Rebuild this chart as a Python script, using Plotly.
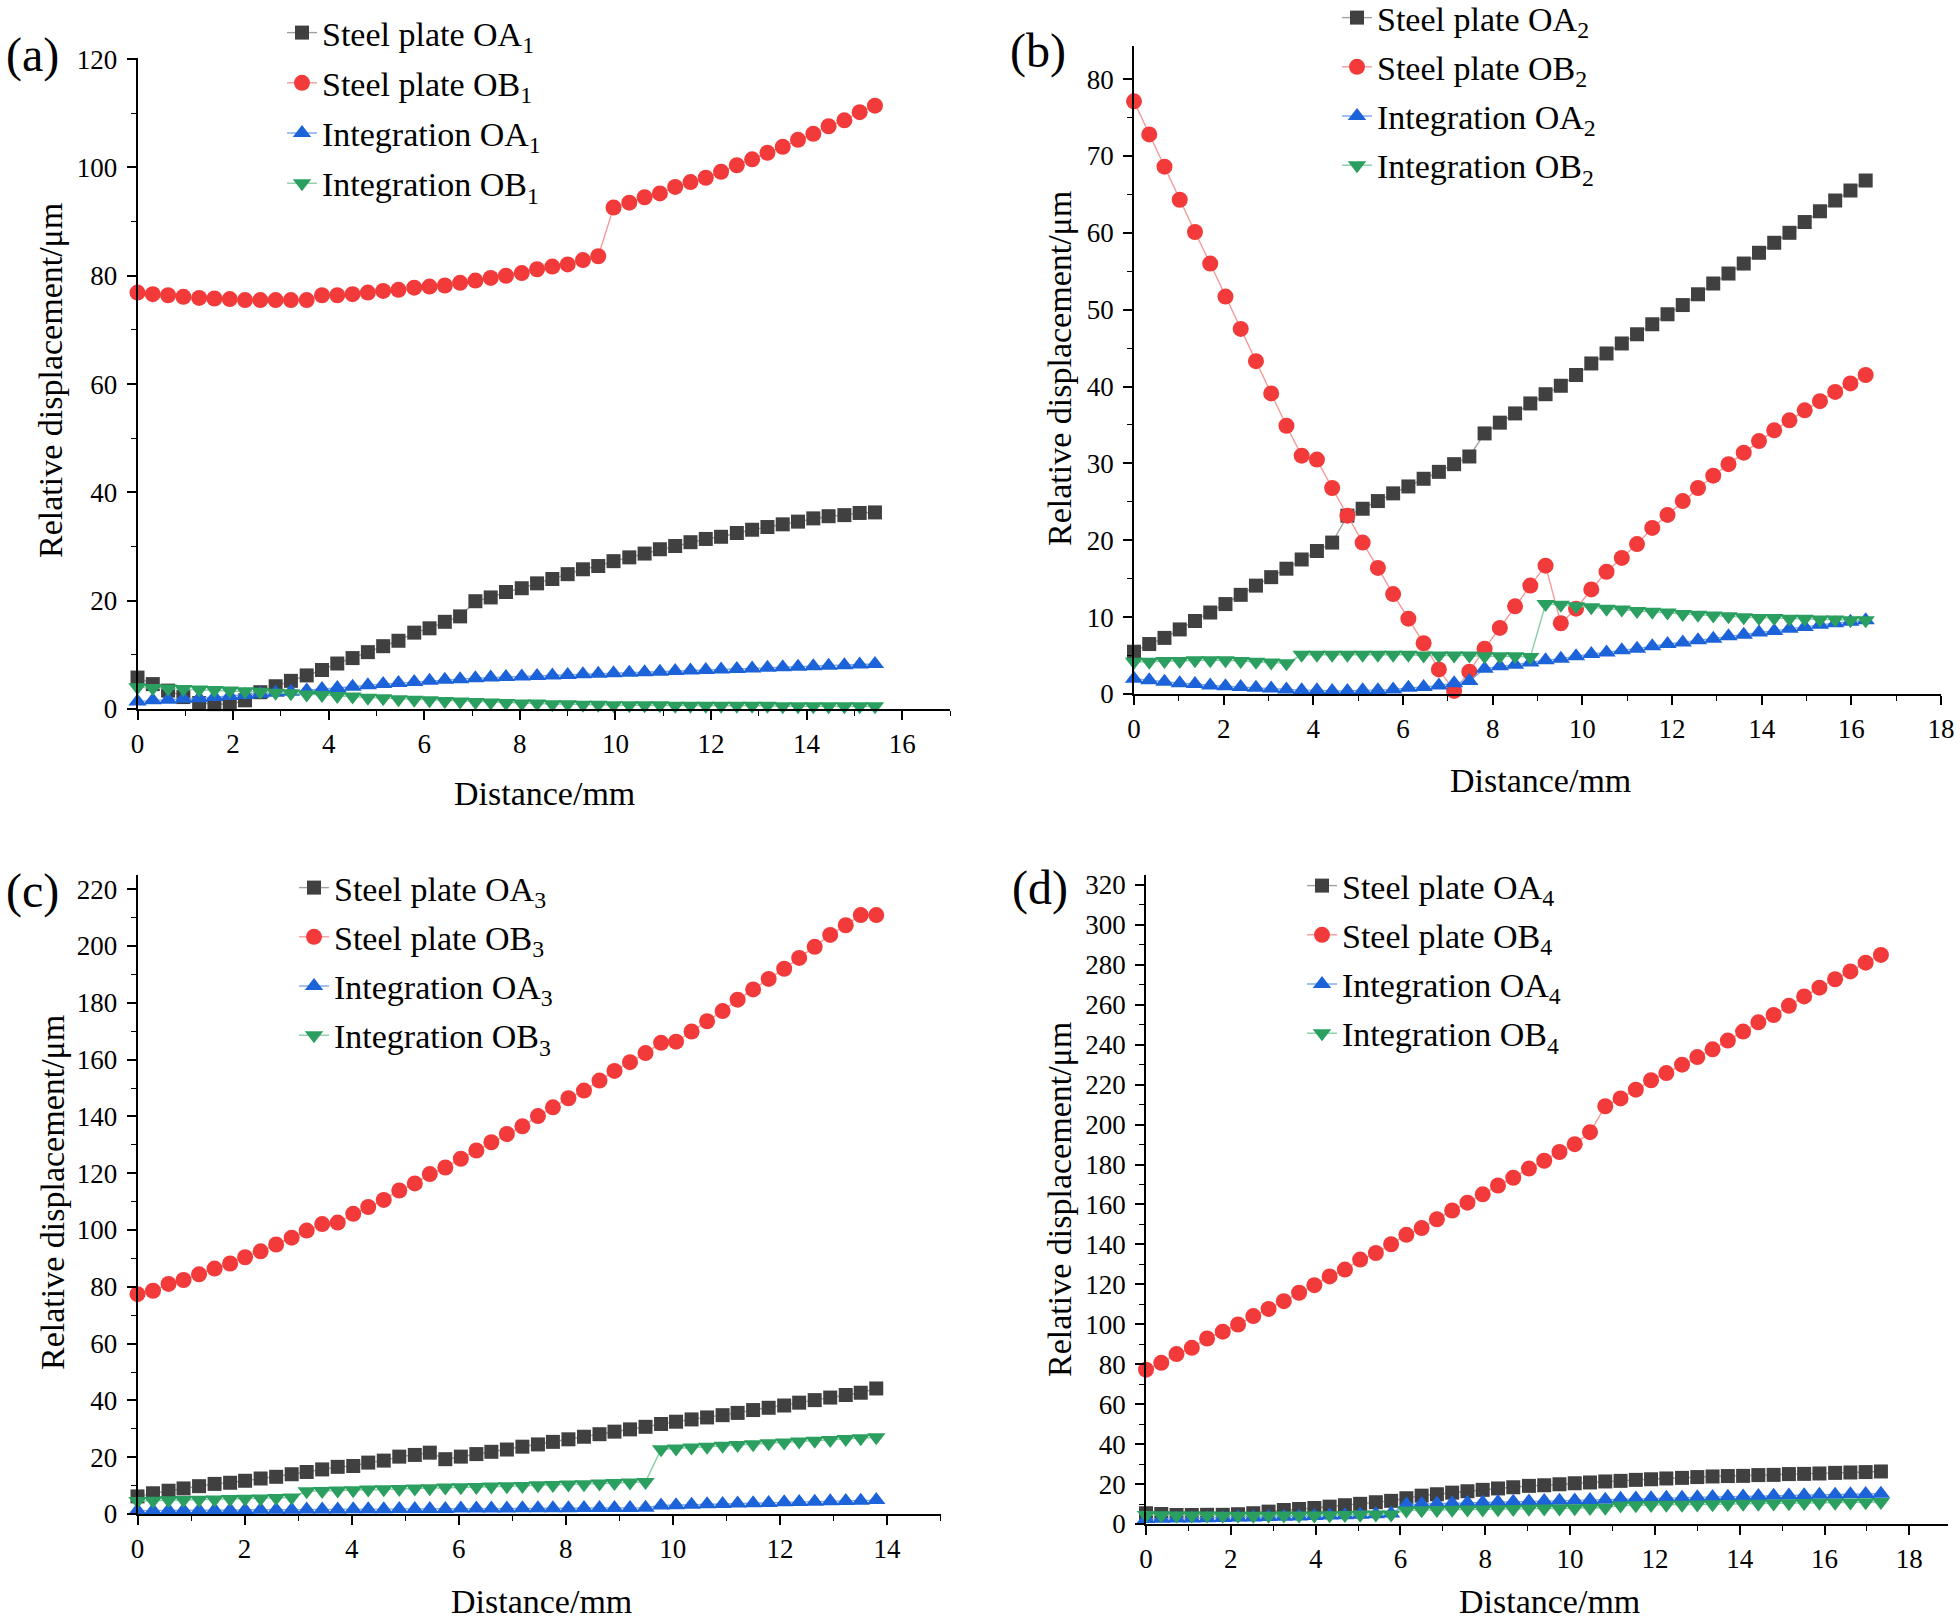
import plotly.graph_objects as go

# ---------------- data ----------------
# (a)
dist_a = [0.00, 0.32, 0.64, 0.96, 1.29, 1.61, 1.93, 2.25, 2.57, 2.89, 3.21, 3.54, 3.86, 4.18, 4.50, 4.82,
          5.14, 5.46, 5.79, 6.11, 6.43, 6.75, 7.07, 7.39, 7.71, 8.04, 8.36, 8.68, 9.00, 9.32, 9.64, 9.96,
          10.29, 10.61, 10.93, 11.25, 11.57, 11.89, 12.21, 12.54, 12.86, 13.18, 13.50, 13.82, 14.14, 14.46,
          14.79, 15.11, 15.43]
steel_OA1 = [5.8, 4.6, 3.4, 2.2, 1.1, 0.9, 0.9, 1.6, 3.1, 4.2, 5.2, 6.2, 7.2, 8.4, 9.4, 10.5, 11.6, 12.6,
             14.1, 14.9, 16.1, 17.1, 19.9, 20.6, 21.6, 22.3, 23.2, 24.0, 24.9, 25.8, 26.4, 27.3, 28.0, 28.7,
             29.5, 30.1, 30.8, 31.4, 31.8, 32.5, 33.1, 33.6, 34.1, 34.6, 35.2, 35.6, 35.8, 36.2, 36.3]
steel_OB1 = [76.9, 76.6, 76.4, 76.1, 75.9, 75.8, 75.7, 75.5, 75.5, 75.5, 75.5, 75.5, 76.4, 76.4, 76.6, 76.9,
             77.2, 77.4, 77.8, 78.0, 78.2, 78.7, 79.1, 79.6, 80.0, 80.5, 81.2, 81.7, 82.1, 82.9, 83.6, 92.6,
             93.5, 94.5, 95.2, 96.4, 97.3, 98.1, 99.2, 100.4, 101.5, 102.7, 103.8, 105.1, 106.2, 107.6,
             108.7, 110.2, 111.4]
integ_OA1 = [1.4, 1.6, 1.7, 1.9, 2.0, 2.2, 2.4, 2.6, 2.8, 3.0, 3.2, 3.4, 3.7, 3.9, 4.1, 4.4, 4.6, 4.8, 5.0,
             5.2, 5.4, 5.5, 5.7, 5.8, 5.9, 6.0, 6.1, 6.2, 6.3, 6.4, 6.5, 6.6, 6.7, 6.8, 6.9, 7.0, 7.1, 7.2,
             7.3, 7.4, 7.5, 7.6, 7.7, 7.8, 7.9, 8.0, 8.1, 8.2, 8.3]
integ_OB1 = [4.0, 3.9, 3.8, 3.7, 3.6, 3.5, 3.4, 3.3, 3.2, 3.0, 2.9, 2.7, 2.6, 2.4, 2.3, 2.1, 2.0, 1.8, 1.7,
             1.6, 1.5, 1.4, 1.3, 1.2, 1.1, 1.0, 1.0, 0.9, 0.9, 0.8, 0.8, 0.7, 0.7, 0.7, 0.7, 0.6, 0.6, 0.6,
             0.6, 0.6, 0.6, 0.6, 0.5, 0.5, 0.5, 0.5, 0.5, 0.5, 0.5]

# (b)
dist_b = [0.00, 0.34, 0.68, 1.02, 1.36, 1.70, 2.04, 2.38, 2.72, 3.06, 3.40, 3.74, 4.08, 4.42, 4.76, 5.10,
          5.44, 5.78, 6.12, 6.46, 6.80, 7.14, 7.48, 7.82, 8.16, 8.50, 8.84, 9.18, 9.52, 9.86, 10.20, 10.54,
          10.88, 11.22, 11.56, 11.90, 12.24, 12.58, 12.92, 13.26, 13.60, 13.94, 14.28, 14.62, 14.96, 15.30,
          15.64, 15.98, 16.32]
steel_OA2 = [5.5, 6.5, 7.3, 8.4, 9.5, 10.6, 11.7, 12.9, 14.1, 15.2, 16.3, 17.5, 18.6, 19.7, 23.2, 24.1,
             25.1, 26.1, 27.0, 28.0, 28.9, 29.9, 30.9, 33.9, 35.3, 36.5, 37.8, 39.0, 40.1, 41.5, 43.0, 44.3,
             45.6, 46.8, 48.1, 49.4, 50.6, 52.0, 53.4, 54.7, 56.0, 57.4, 58.7, 60.0, 61.4, 62.8, 64.2, 65.5,
             66.8]
steel_OB2 = [77.1, 72.8, 68.6, 64.3, 60.1, 56.0, 51.7, 47.5, 43.3, 39.1, 34.9, 31.0, 30.5, 26.8, 23.2, 19.7,
             16.4, 13.0, 9.8, 6.6, 3.2, 0.4, 2.9, 5.9, 8.6, 11.4, 14.1, 16.7, 9.2, 11.1, 13.6, 15.9, 17.7,
             19.5, 21.6, 23.3, 25.1, 26.8, 28.4, 29.9, 31.4, 32.9, 34.3, 35.6, 36.9, 38.1, 39.3, 40.4, 41.5]
integ_OA2 = [2.0, 1.8, 1.6, 1.4, 1.3, 1.1, 1.0, 0.9, 0.8, 0.7, 0.6, 0.5, 0.5, 0.4, 0.4, 0.5, 0.5, 0.6, 0.8,
             0.9, 1.1, 1.4, 1.7, 3.3, 3.6, 3.8, 4.1, 4.4, 4.6, 4.9, 5.2, 5.4, 5.7, 5.9, 6.2, 6.5, 6.7, 7.0,
             7.2, 7.5, 7.7, 8.0, 8.2, 8.5, 8.7, 9.0, 9.2, 9.4, 9.6]
integ_OB2 = [4.2, 4.2, 4.3, 4.3, 4.4, 4.4, 4.4, 4.3, 4.2, 4.1, 4.0, 5.1, 5.1, 5.1, 5.1, 5.1, 5.1, 5.1, 5.1,
             5.0, 5.0, 5.0, 5.0, 4.9, 4.9, 4.9, 4.8, 11.7, 11.6, 11.4, 11.3, 11.1, 11.0, 10.8, 10.7, 10.6,
             10.4, 10.3, 10.2, 10.1, 10.0, 9.9, 9.9, 9.8, 9.8, 9.7, 9.7, 9.6, 9.6]

# (c)
dist_c = [0.00, 0.29, 0.58, 0.86, 1.15, 1.44, 1.73, 2.01, 2.30, 2.59, 2.88, 3.16, 3.45, 3.74, 4.03, 4.31,
          4.60, 4.89, 5.18, 5.46, 5.75, 6.04, 6.33, 6.61, 6.90, 7.19, 7.48, 7.76, 8.05, 8.34, 8.63, 8.91,
          9.20, 9.49, 9.78, 10.06, 10.35, 10.64, 10.93, 11.21, 11.50, 11.79, 12.08, 12.36, 12.65, 12.94,
          13.23, 13.51, 13.80]
steel_OA3 = [6.2, 7.3, 8.2, 9.0, 9.8, 10.6, 11.0, 11.7, 12.5, 13.1, 14.0, 14.8, 15.7, 16.6, 16.9, 18.1,
             18.8, 20.2, 20.8, 21.6, 19.3, 20.2, 21.1, 21.9, 22.7, 23.7, 24.5, 25.4, 26.3, 27.2, 28.1, 29.0,
             29.8, 30.7, 31.7, 32.5, 33.3, 34.0, 34.8, 35.6, 36.6, 37.4, 38.2, 39.2, 40.1, 41.0, 41.9, 42.7,
             44.2]
steel_OB3 = [77.4, 78.6, 81.0, 82.4, 84.4, 86.4, 88.2, 90.4, 92.5, 94.9, 97.3, 99.8, 102.1, 102.6, 105.7,
             108.1, 110.6, 113.9, 116.4, 119.7, 122.0, 125.1, 128.0, 130.9, 133.8, 136.5, 140.1, 143.2,
             146.4, 149.1, 152.6, 156.0, 159.1, 162.3, 165.9, 166.3, 169.9, 173.5, 177.1, 181.1, 184.7,
             188.4, 192.0, 195.8, 199.7, 203.9, 207.3, 210.9, 210.9]
integ_OA3 = [1.2, 1.2, 1.3, 1.3, 1.3, 1.4, 1.4, 1.4, 1.5, 1.5, 1.5, 1.6, 1.6, 1.6, 1.7, 1.7, 1.7, 1.8, 1.8,
             1.8, 1.8, 1.9, 1.9, 1.9, 1.9, 2.0, 2.0, 2.0, 2.0, 2.1, 2.1, 2.1, 2.1, 2.2, 3.0, 3.1, 3.3, 3.4,
             3.5, 3.7, 3.8, 3.9, 4.1, 4.2, 4.3, 4.5, 4.6, 4.7, 4.9]
integ_OB3 = [4.6, 4.7, 4.8, 4.9, 5.0, 5.1, 5.3, 5.4, 5.5, 5.6, 5.8, 8.0, 8.1, 8.3, 8.4, 8.6, 8.7, 8.8, 9.0,
             9.1, 9.3, 9.4, 9.5, 9.7, 9.8, 9.9, 10.1, 10.2, 10.4, 10.5, 10.7, 10.9, 11.1, 11.3, 22.8, 23.1,
             23.4, 23.7, 24.0, 24.3, 24.6, 24.9, 25.2, 25.5, 25.8, 26.1, 26.4, 26.7, 27.0]

# (d)
dist_d = [0.00, 0.36, 0.72, 1.08, 1.44, 1.81, 2.17, 2.53, 2.89, 3.25, 3.61, 3.97, 4.33, 4.69, 5.05, 5.42,
          5.78, 6.14, 6.50, 6.86, 7.22, 7.58, 7.94, 8.30, 8.66, 9.03, 9.39, 9.75, 10.11, 10.47, 10.83,
          11.19, 11.55, 11.91, 12.27, 12.64, 13.00, 13.36, 13.72, 14.08, 14.44, 14.80, 15.16, 15.52, 15.88,
          16.25, 16.61, 16.97, 17.33]
steel_OA4 = [5.4, 5.0, 4.5, 4.5, 4.6, 4.6, 4.9, 5.4, 6.2, 7.0, 7.5, 8.0, 8.7, 9.4, 10.1, 10.9, 11.6, 12.9,
             14.2, 14.9, 15.7, 16.4, 17.1, 17.8, 18.4, 19.1, 19.4, 19.9, 20.4, 20.8, 21.3, 21.6, 22.1, 22.4,
             22.8, 23.1, 23.5, 23.8, 24.0, 24.1, 24.5, 24.6, 25.0, 25.1, 25.3, 25.6, 25.8, 26.0, 26.3]
steel_OB4 = [77.3, 80.7, 85.1, 88.2, 92.9, 96.3, 99.9, 104.1, 107.7, 111.6, 115.8, 119.6, 124.0, 127.4,
             132.4, 135.7, 140.1, 144.8, 148.2, 152.6, 157.0, 160.9, 165.1, 169.5, 173.4, 178.0, 181.9,
             186.3, 190.2, 196.2, 209.2, 213.1, 217.5, 222.2, 225.8, 230.0, 233.8, 237.7, 242.1, 246.6,
             251.2, 254.9, 259.5, 264.2, 268.6, 272.8, 276.7, 281.1, 285.0]
integ_OA4 = [2.5, 2.6, 2.7, 2.8, 2.9, 3.0, 3.2, 3.3, 3.5, 3.6, 3.8, 4.0, 4.2, 4.4, 4.6, 4.9, 5.2, 9.8, 10.0,
             10.2, 10.4, 10.6, 10.8, 11.0, 11.2, 11.3, 11.5, 11.7, 11.8, 12.0, 12.1, 12.6, 12.8, 12.9, 13.1,
             13.2, 13.4, 13.5, 13.7, 13.8, 14.0, 14.1, 14.3, 14.4, 14.6, 14.7, 14.9, 15.0, 15.2]
integ_OB4 = [4.5, 4.4, 4.3, 4.2, 4.2, 4.1, 4.1, 4.1, 4.1, 4.2, 4.2, 4.3, 4.4, 4.5, 4.6, 4.7, 4.8, 6.8, 6.9,
             7.0, 7.1, 7.2, 7.3, 7.4, 7.5, 7.6, 7.7, 7.8, 7.9, 8.0, 8.1, 9.3, 9.4, 9.5, 9.6, 9.7, 9.8, 9.9,
             10.0, 10.1, 10.2, 10.3, 10.4, 10.5, 10.6, 10.7, 10.8, 10.9, 11.0]

series_names = ["Steel plate OA", "Steel plate OB", "Integration OA", "Integration OB"]
panel_labels = ["(a)", "(b)", "(c)", "(d)"]
x_title = "Distance/mm"
y_title = "Relative displacement/μm"

# ---------------- styles / layout ----------------
W, H = 1960, 1622
FONT = "Liberation Serif, Times New Roman, serif"


def px(x):
    return x / W


def py(y):
    return 1 - y / H


styles = [
    dict(symbol="square", size=14, mcolor="#404040", lcolor="#a0a0a0"),
    dict(symbol="circle", size=16, mcolor="#f23a3a", lcolor="#f59a9a"),
    dict(symbol="triangle-up", size=16, mcolor="#1c63d9", lcolor="#7ba5ee"),
    dict(symbol="triangle-down", size=16, mcolor="#2b9f60", lcolor="#86cfa4"),
]

panels = [
    dict(x=dist_a, ys=[steel_OA1, steel_OB1, integ_OA1, integ_OB1], sub="1",
         xpix=(137.5, 950), ypix=(709, 57.5), xr=[0, 17], yr=[0, 120.3], ydt=20, ymin=10,
         leg=(282, 4), gap=3, ytit=(50, 381), xtit=(544, 793), lab=(32, 55)),
    dict(x=dist_b, ys=[steel_OA2, steel_OB2, integ_OA2, integ_OB2], sub="2",
         xpix=(1134, 1941), ypix=(694, 46), xr=[0, 18], yr=[0, 84.3], ydt=10, ymin=5,
         leg=(1337, -11), gap=2, ytit=(1060, 369), xtit=(1540, 780), lab=(1038, 51)),
    dict(x=dist_c, ys=[steel_OA3, steel_OB3, integ_OA3, integ_OB3], sub="3",
         xpix=(137.5, 940.5), ypix=(1514, 875), xr=[0, 15], yr=[0, 225], ydt=20, ymin=10,
         leg=(294, 859), gap=2, ytit=(52, 1193), xtit=(541, 1601), lab=(32, 891)),
    dict(x=dist_d, ys=[steel_OA4, steel_OB4, integ_OA4, integ_OB4], sub="4",
         xpix=(1146, 1947.5), ypix=(1524, 875), xr=[0, 18.9], yr=[0, 325], ydt=20, ymin=10,
         leg=(1302, 857), gap=2, ytit=(1059, 1200), xtit=(1549, 1601), lab=(1040, 888)),
]

fig = go.Figure()
layout = dict(
    width=W, height=H, margin=dict(l=0, r=0, t=0, b=0, autoexpand=False),
    paper_bgcolor="white", plot_bgcolor="white",
    font=dict(family=FONT, color="black"),
    showlegend=True, annotations=[],
)

for k, p in enumerate(panels):
    n = "" if k == 0 else str(k + 1)
    legname = "legend" if k == 0 else f"legend{k + 1}"
    for j, (yv, st) in enumerate(zip(p["ys"], styles)):
        fig.add_trace(go.Scatter(
            x=p["x"], y=yv, mode="lines+markers",
            name=f"{series_names[j]}<sub>{p['sub']}</sub>",
            xaxis=f"x{n}", yaxis=f"y{n}", legend=legname,
            legendgroup=f"g{k}_{j}",
            cliponaxis=False,
            line=dict(color=st["lcolor"], width=1.4),
            marker=dict(symbol=st["symbol"], size=st["size"], color=st["mcolor"], line=dict(width=0)),
        ))
    axis_common = dict(
        showline=True, linecolor="black", linewidth=1.8, mirror=False,
        ticks="outside", ticklen=9, tickwidth=1.6, tickcolor="black",
        showgrid=False, zeroline=False,
        tickfont=dict(family=FONT, size=27, color="black"),
    )
    layout[f"xaxis{n}"] = dict(
        axis_common, domain=[px(p["xpix"][0]), px(p["xpix"][1])], range=p["xr"],
        anchor=f"y{n}", dtick=2, tick0=0, ticklabelstandoff=1,
        minor=dict(dtick=1, ticks="outside", ticklen=5, tickwidth=1.4, tickcolor="black"),
    )
    layout[f"yaxis{n}"] = dict(
        axis_common, domain=[py(p["ypix"][0]), py(p["ypix"][1])], range=p["yr"],
        anchor=f"x{n}", dtick=p["ydt"], tick0=0, ticklabelstandoff=4,
        minor=dict(dtick=p["ymin"], ticks="outside", ticklen=5, tickwidth=1.4, tickcolor="black"),
    )
    layout[legname] = dict(
        x=px(p["leg"][0]), y=py(p["leg"][1]), xanchor="left", yanchor="top",
        bgcolor="rgba(0,0,0,0)", borderwidth=0, tracegroupgap=p["gap"],
        font=dict(family=FONT, size=34, color="black"),
        itemsizing="trace",
    )
    layout["annotations"] += [
        dict(text=y_title, x=px(p["ytit"][0]), y=py(p["ytit"][1]), xref="paper", yref="paper",
             textangle=-90, showarrow=False, xanchor="center", yanchor="middle",
             font=dict(family=FONT, size=34, color="black")),
        dict(text=x_title, x=px(p["xtit"][0]), y=py(p["xtit"][1]), xref="paper", yref="paper",
             showarrow=False, xanchor="center", yanchor="middle",
             font=dict(family=FONT, size=34, color="black")),
        dict(text=panel_labels[k], x=px(p["lab"][0]), y=py(p["lab"][1]), xref="paper", yref="paper",
             showarrow=False, xanchor="center", yanchor="middle",
             font=dict(family=FONT, size=48, color="black")),
    ]

fig.update_layout(**layout)
fig.write_html("out.html", config={"displayModeBar": False},
               post_script="document.body.style.margin='0px';")
